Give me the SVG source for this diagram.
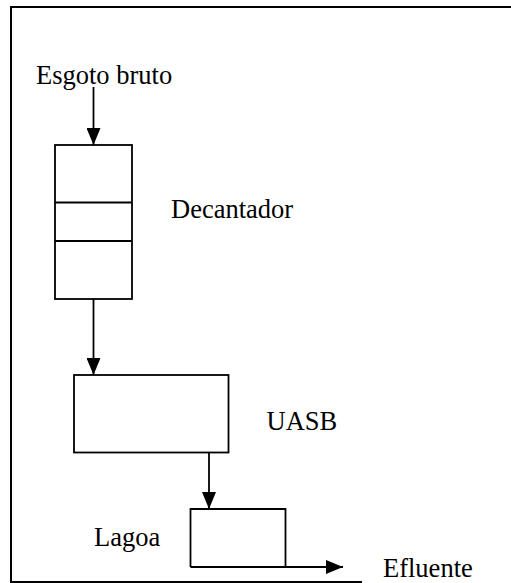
<svg xmlns="http://www.w3.org/2000/svg" width="511" height="583" viewBox="0 0 511 583">
  <defs>
    <marker id="ah" viewBox="0 0 17 14" refX="17" refY="7" markerWidth="17" markerHeight="14" markerUnits="userSpaceOnUse" orient="auto">
      <path d="M0,0 L17,7 L0,14 Z" fill="#000"/>
    </marker>
  </defs>
  <style>
    .box { fill: #fff; stroke: #000; stroke-width: 1.8; }
    .conn { fill: none; stroke: #000; stroke-width: 1.8; }
    .lbl { font-family: "Liberation Serif", "Times New Roman", serif; font-size: 26.5px; fill: #000; }
    .frame { fill: none; stroke: #000; stroke-width: 2; }
  </style>
  <rect width="511" height="583" fill="#fff"/>
  <g id="frame">
    <path class="frame" d="M511,7 L11,7 L11,582 L362,582"/>
  </g>
  <g id="esgoto">
    <text class="lbl" x="36" y="84">Esgoto bruto</text>
  </g>
  <g id="decantador">
    <rect class="box" x="55" y="145" width="77" height="154"/>
    <line class="conn" x1="55" y1="202.5" x2="132" y2="202.5"/>
    <line class="conn" x1="55" y1="241" x2="132" y2="241"/>
    <text class="lbl" x="171" y="217.5">Decantador</text>
  </g>
  <g id="uasb">
    <rect class="box" x="74" y="375" width="154.5" height="77.5"/>
    <text class="lbl" x="266.5" y="429.5">UASB</text>
  </g>
  <g id="lagoa">
    <path class="box" d="M190.5,567 L190.5,509 L285.5,509 L285.5,567"/>
    <text class="lbl" x="94" y="545.5">Lagoa</text>
  </g>
  <g id="efluente">
    <text class="lbl" x="383" y="576.5">Efluente</text>
  </g>
  <g id="connectors">
    <line class="conn" x1="93.5" y1="87" x2="93.5" y2="145" marker-end="url(#ah)"/>
    <line class="conn" x1="93.5" y1="299" x2="93.5" y2="375" marker-end="url(#ah)"/>
    <line class="conn" x1="209" y1="452.5" x2="209" y2="509" marker-end="url(#ah)"/>
    <line class="conn" x1="190.5" y1="567" x2="343" y2="567" marker-end="url(#ah)"/>
  </g>
</svg>
